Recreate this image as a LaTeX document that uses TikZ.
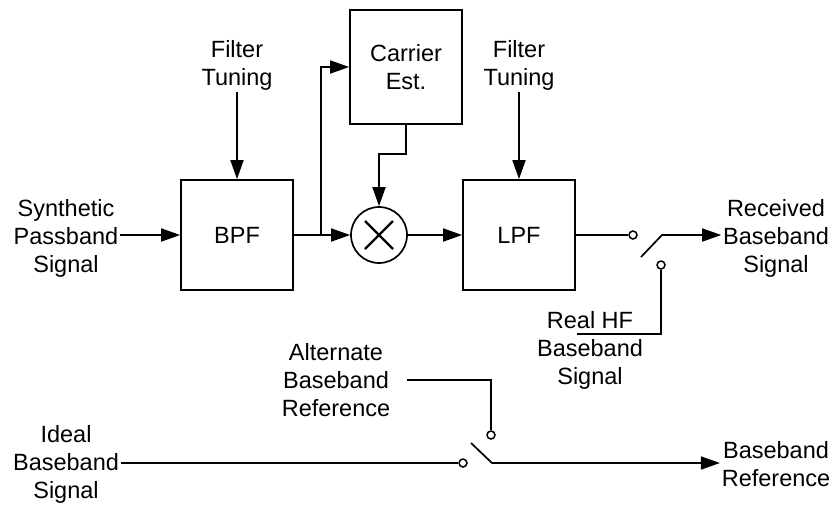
\documentclass[tikz,border=0pt]{standalone}
\usepackage{fontspec}
\setmainfont{Liberation Sans}
\usetikzlibrary{arrows.meta}
\begin{document}
\begin{tikzpicture}[x=1pt,y=-1pt,line width=1.7pt,
  blk/.style={draw,minimum width=112pt,minimum height=110pt,inner sep=0pt,align=center,font=\fontsize{23.5}{28}\selectfont},
  lbl/.style={align=center,font=\fontsize{23.5}{28}\selectfont,inner sep=1pt},
  arr/.style={-{Triangle[length=19pt,width=13pt]}},
  contact/.style={circle,draw,minimum size=8pt,inner sep=0pt,line width=1.5pt}]
\useasboundingbox (0,0) rectangle (832,507);
% blocks
\node[blk] (bpf) at (237,235) {BPF};
\node[blk] (lpf) at (519,235) {LPF};
\node[blk,minimum height=114pt] (car) at (406,67) {Carrier\\Est.};
\node[circle,draw,minimum size=56pt,inner sep=0pt] (mix) at (379,235) {};
\draw[line width=2.4pt] (mix.center) ++(-14,-14) -- ++(28,28);
\draw[line width=2.4pt] (mix.center) ++(-14,14) -- ++(28,-28);
% labels
\node[lbl] (syn) at (66,238) {Synthetic\\Passband\\Signal};
\node[lbl,anchor=south] (ft1) at (237,92) {Filter\\Tuning};
\node[lbl,anchor=south] (ft2) at (519,92) {Filter\\Tuning};
\node[lbl] (rec) at (776,238) {Received\\Baseband\\Signal};
\node[lbl] (rhf) at (590,350) {Real HF\\Baseband\\Signal};
\node[lbl] (alt) at (336,380) {Alternate\\Baseband\\Reference};
\node[lbl] (ideal) at (66,464) {Ideal\\Baseband\\Signal};
\node[lbl] (bref) at (776,464) {Baseband\\Reference};
% top path
\draw[arr] (syn.east |- bpf.west) -- (bpf.west);
\draw[arr] (ft1.south) -- (bpf.north);
\draw[arr] (ft2.south) -- (lpf.north);
\draw[arr] (bpf.east) -- (mix.west);
\coordinate (split) at (321,235);
\draw[arr] (split) |- (car.west);
\draw[arr] (car.south) -- ++(0,29) -| (mix.north);
\draw[arr] (mix.east) -- (lpf.west);
% top switch
\node[contact] (c1) at (633,235) {};
\node[contact] (c2) at (661,265) {};
\coordinate (b1) at (641,257);
\coordinate (b2) at (662,235);
\draw (lpf.east) -- (c1.west);
\draw[arr] (b1) -- (b2) -- (rec.west |- b2);
\coordinate (rhfend) at (577,334);
\draw (c2.south) |- (rhfend);
% bottom switch
\node[contact] (c3) at (463,463) {};
\node[contact] (c4) at (491,435) {};
\coordinate (b3) at (471,443);
\coordinate (b4) at (492,463);
\draw (ideal.east |- c3) -- (c3.west);
\draw[arr] (b3) -- (b4) -- (bref.west |- b4);
\coordinate (altend) at (407,380);
\draw (c4.north) |- (altend);
\end{tikzpicture}
\end{document}
